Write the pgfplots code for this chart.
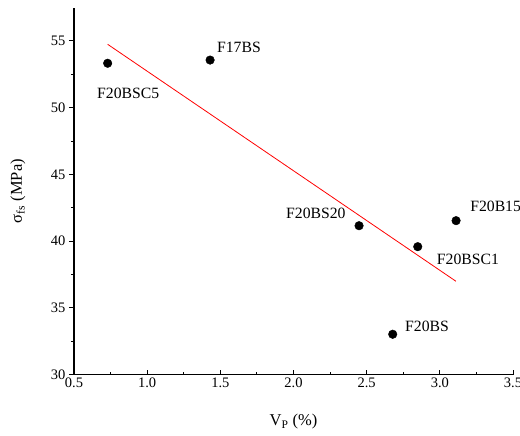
\documentclass[border=0pt]{standalone}
\usepackage{fontspec}
\setmainfont{Liberation Serif}
\usepackage{pgfplots}
\pgfplotsset{compat=1.18}
\definecolor{fitred}{HTML}{FF0000}

\begin{document}
\begin{tikzpicture}
\path[use as bounding box] (-74pt,-61.3pt) rectangle (446pt,374.7pt);
\begin{axis}[
  at={(0,0)}, anchor=south west,
  width=439pt, height=367.1pt, scale only axis,
  xmin=0.5, xmax=3.5, ymin=30, ymax=57.5,
  xtick={0.5,1.0,...,3.5}, ytick={30,35,...,55},
  minor x tick num=1, minor y tick num=1,
  xticklabel style={/pgf/number format/.cd, fixed, fixed zerofill, precision=1},
  /pgf/number format/assume math mode=true,
  tick label style={font=\fontsize{14.5}{16}\selectfont},
  label style={font=\fontsize{16.5}{18}\selectfont},
  axis x line*=bottom, axis y line*=left,
  x axis line style={-, line width=1.1pt},
  y axis line style={-, line width=1.1pt},
  xtick style={line width=1pt, black},
  ytick style={line width=1pt, black},
  tick align=outside,
  xtick align=inside,
  major tick length=5pt, minor tick length=3pt,
  xlabel={V\textsubscript{P} (\%)},
  ylabel={σ\textsubscript{fs} (MPa)},
  xlabel style={at={(axis description cs:0.5,0)}, yshift=-36pt},
  ylabel style={at={(axis description cs:0,0.5)}, yshift=45pt},
  clip=false]
\addplot[fitred, line width=0.8pt] coordinates {(0.73,54.75) (3.11,37.0)};
\addplot[only marks, mark=*, mark size=4.3pt, mark options={fill=black, draw=black}]
  coordinates {(0.73,53.33) (1.43,53.57) (2.448,41.16) (2.849,39.59) (3.111,41.54) (2.678,33.03)};
\begin{scope}[every node/.style={inner sep=0pt, font=\fontsize{15.7}{17}\selectfont}]
\node[anchor=west] at (axis cs:0.657,51.1) {F20BSC5};
\node[anchor=west] at (axis cs:1.477,54.55) {F17BS};
\node[anchor=east] at (axis cs:2.357,42.11) {F20BS20};
\node[anchor=west] at (axis cs:3.207,42.63) {F20B15};
\node[anchor=west] at (axis cs:2.979,38.67) {F20BSC1};
\node[anchor=west] at (axis cs:2.762,33.65) {F20BS};
\end{scope}
\end{axis}
\end{tikzpicture}
\end{document}
